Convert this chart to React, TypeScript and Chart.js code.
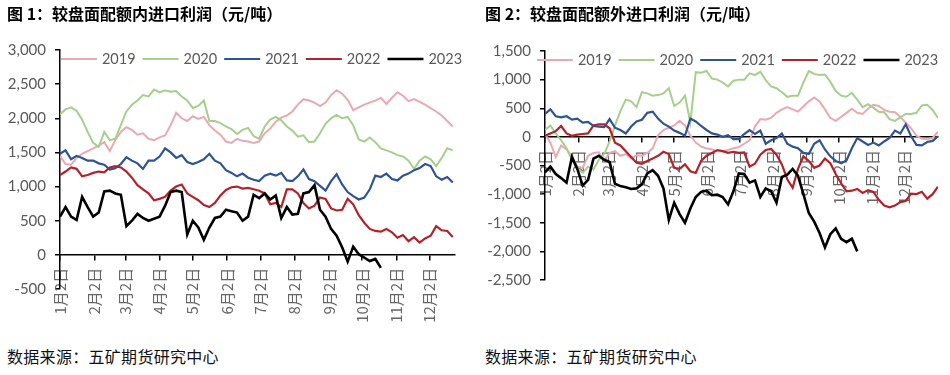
import React, { useEffect, useRef } from "react";
import { Chart, registerables } from "chart.js";

Chart.register(...registerables);

// ---------- shared axis data ----------
const MONTH_TICK_DAYS = [1, 32, 60, 91, 121, 152, 182, 213, 244, 274, 305, 335];
const MONTH_LABELS = ["1月2日", "2月2日", "3月2日", "4月2日", "5月2日", "6月2日", "7月2日", "8月2日", "9月2日", "10月2日", "11月2日", "12月2日"];
const YEARS = ["2019", "2020", "2021", "2022", "2023"];
const DAY_STEP = 5; // samples are read every 5 calendar days starting Jan 2

// ---------- Figure 1: 配额内进口利润 ----------
const P1_2019 = [1450, 1330, 1320, 1420, 1480, 1520, 1560, 1600, 1650, 1520, 1680, 1800, 1870, 1830, 1760, 1780, 1700, 1680, 1720, 1750, 1900, 2080, 2000, 1960, 2030, 1990, 2020, 1900, 1820, 1760, 1660, 1640, 1700, 1670, 1660, 1640,
  1660, 1780, 1850, 1950, 2010, 2040, 2100, 2200, 2280, 2260, 2230, 2180, 2230, 2340, 2410, 2360, 2270, 2120, 2160, 2200, 2230, 2260, 2300, 2210, 2300, 2380, 2330, 2250, 2280, 2240, 2200, 2150, 2100, 2040, 1960, 1880];
const P1_2020 = [2060, 2130, 2160, 2110, 1980, 1800, 1640, 1580, 1800, 1680, 1700, 1900, 2100, 2200, 2260, 2340, 2320, 2420, 2380, 2410, 2390, 2400, 2320, 2260, 2150, 2180, 2260, 1960, 1960, 1930, 1880, 1840, 1770, 1830, 1860, 1740,
  1700, 1880, 1980, 2020, 1970, 1880, 1820, 1730, 1750, 1650, 1660, 1780, 1920, 2000, 2050, 2000, 2020, 1900, 1690, 1660, 1720, 1650, 1560, 1530, 1500, 1460, 1440, 1380, 1260, 1380, 1440, 1400, 1300, 1420, 1560, 1530];
const P1_2021 = [1480, 1530, 1400, 1450, 1420, 1380, 1380, 1340, 1320, 1250, 1270, 1330, 1430, 1380, 1340, 1260, 1380, 1380, 1440, 1560, 1500, 1420, 1460, 1360, 1330, 1360, 1400, 1480, 1380, 1340, 1240, 1200, 1150, 1190, 1130, 1100,
  1080, 1160, 1190, 1160, 1200, 1090, 1080, 1150, 1250, 1110, 1080, 1010, 940, 1080, 1180, 1030, 920, 860, 810, 840, 960, 1160, 1140, 1190, 1110, 1090, 1160, 1190, 1240, 1270, 1330, 1300, 1150, 1100, 1140, 1060];
const P1_2022 = [1170, 1220, 1280, 1260, 1150, 1170, 1200, 1220, 1210, 1280, 1300, 1280, 1220, 1130, 1020, 960, 900, 800, 820, 850, 940, 1000, 1030, 900, 850, 800, 730, 700, 760, 870, 950, 990, 1000, 970, 980, 960,
  940, 900, 740, 760, 700, 960, 960, 900, 760, 680, 720, 840, 820, 680, 650, 660, 820, 740, 580, 470, 380, 350, 340, 380, 330, 250, 290, 200, 260, 180, 240, 280, 420, 360, 350, 260];
const P1_2023 = [560, 700, 560, 510, 850, 700, 560, 620, 930, 940, 900, 880, 420, 500, 600, 540, 500, 530, 560, 720, 920, 940, 920, 300, 500, 400, 220, 400, 540, 560, 660, 640, 620, 500, 560, 880,
  830, 900, 810, 870, 540, 700, 590, 600, 900, 920, 1020, 660, 560, 380, 280, 110, -100, 120, 10, -40, -90, -60, -190];

// ---------- Figure 2: 配额外进口利润 ----------
const P2_2019 = [50, -100, -350, -150, -220, -330, -520, -540, -330, -280, -270, -420, -280, -250, -330, -300, -380, -320, -330, -280, -200, 30, 120, 160, 200, 280, 200, 20, -100, -170, -200, -220, -250, -250, -230, -200, -180,
  -120, -60, 180, 310, 300, 330, 420, 480, 520, 480, 440, 530, 620, 690, 620, 480, 330, 280, 350, 420, 490, 420, 400, 490, 560, 540, 470, 440, 430, 350, 250, 150, 20, -30, -40, -20, 90];
const P2_2020 = [120, 200, 60, -60, -200, -400, -550, -630, -520, -570, -400, -300, -80, 200, 450, 650, 620, 520, 780, 760, 720, 730, 760, 850, 540, 600, 720, 250, 1130, 1120, 1150, 1020, 1000, 950, 880, 980, 1000,
  1000, 1110, 1080, 1140, 990, 880, 850, 780, 700, 720, 720, 950, 1150, 1100, 1080, 1090, 960, 800, 720, 700, 770, 650, 520, 570, 510, 440, 430, 310, 280, 340, 400, 400, 420, 550, 560, 470, 330];
const P2_2021 = [400, 480, 360, 340, 360, 300, 320, 250, 260, 190, 180, 170, 310, 160, 120, 60, 180, 270, 300, 420, 440, 320, 230, 180, 110, 70, 20, 320, 270, 190, 120, 60, 40, 0, 30, -40, -40,
  50, 120, 50, 110, -120, -60, -20, 60, -120, -170, -200, -280, -300, -120, -60, -220, -340, -420, -460, -410, -200, -20, -80, -140, -100, -150, -80, -20, 110, 60, 220, 10, -140, -150, -90, -70, 10];
const P2_2022 = [20, 60, 100, 190, 60, 20, 40, 50, 60, 200, 220, 220, 150, -100, -150, -250, -350, -450, -470, -420, -380, -330, -260, -300, -540, -560, -480, -600, -630, -420, -330, -280, -230, -250, -280, -260, -280,
  -270, -520, -470, -310, -230, -210, -310, -480, -740, -890, -560, -340, -420, -540, -500, -380, -460, -650, -810, -950, -940, -910, -980, -930, -960, -1100, -1200, -1230, -1200, -1140, -1120, -990, -1000, -960, -1080, -1000, -870];
const P2_2023 = [-620, -520, -650, -720, -800, -350, -560, -850, -750, -380, -330, -400, -440, -820, -860, -880, -910, -900, -830, -640, -580, -680, -900, -1450, -1150, -1350, -1500, -1250, -1050, -960, -940, -1020, -1010, -1050, -1180, -950, -640,
  -650, -800, -760, -1050, -900, -950, -1150, -700, -660, -560, -680, -1000, -1330, -1480, -1680, -1930, -1700, -1600, -1780, -1840, -1780, -2000];

const P1_SERIES = [P1_2019, P1_2020, P1_2021, P1_2022, P1_2023];
const P2_SERIES = [P2_2019, P2_2020, P2_2021, P2_2022, P2_2023];

const COLORS = ["#eaa9b1", "#a6cf8c", "#2f5496", "#b3222b", "#000000"];
const WIDTHS = [2, 2, 2.2, 2.2, 2.6];

const TICK_COLOR = "#595959";
const NUM_FONT = "Lato";
const CJK_FONT = '"Noto Sans CJK SC"';

const insideLegend = {
  id: "insideLegend",
  afterDatasetsDraw(chart: any, _args: any, opts: any) {
    const { ctx, chartArea } = chart;
    ctx.save();
    ctx.font = `14.5px ${NUM_FONT}`;
    const lineLen = 36, gap = 5, spacing = 7;
    const items = chart.data.datasets.map((ds: any) => ({ ds, w: lineLen + gap + ctx.measureText(ds.label).width }));
    const total = items.reduce((s: number, it: any) => s + it.w, 0) + spacing * (items.length - 1);
    let x = (chartArea.left + chartArea.right) / 2 - total / 2 + (opts.shift || 0);
    const y = chartArea.top + (opts.dy || 9);
    for (const it of items) {
      ctx.strokeStyle = it.ds.borderColor;
      ctx.lineWidth = it.ds.borderWidth;
      ctx.beginPath();
      ctx.moveTo(x, y);
      ctx.lineTo(x + lineLen, y);
      ctx.stroke();
      ctx.fillStyle = TICK_COLOR;
      ctx.textBaseline = "middle";
      ctx.textAlign = "left";
      ctx.fillText(it.ds.label, x + lineLen + gap, y + 0.5);
      x += it.w + spacing;
    }
    ctx.restore();
  },
};

function buildConfig(series: number[][], p: any) {
  const datasets = series.map((values, i) => ({
    label: YEARS[i],
    data: values.map((v, k) => ({ x: 1 + k * DAY_STEP, y: v })),
    borderColor: COLORS[i],
    backgroundColor: COLORS[i],
    borderWidth: WIDTHS[i],
    pointRadius: 0,
    tension: 0,
    fill: false,
    order: series.length - 1 - i,
  }));
  const axisLine = { display: true, color: "#000", width: 1.5 };
  const tickGrid = { display: true, drawOnChartArea: false, drawTicks: true, tickLength: 5, color: "#000", lineWidth: 1.5 };
  return {
    type: "line" as const,
    data: { datasets },
    options: {
      responsive: false,
      animation: false,
      devicePixelRatio: 1,
      layout: { padding: { left: 0, top: p.padTop, right: p.padRight, bottom: p.padBottom } },
      plugins: {
        legend: { display: false },
        tooltip: { enabled: false },
        insideLegend: { shift: p.legendShift, dy: p.legendDy },
      },
      scales: {
        x: {
          type: "linear",
          min: 1,
          max: p.xMax,
          position: { y: 0 },
          afterBuildTicks: (s: any) => {
            s.ticks = MONTH_TICK_DAYS.map((v) => ({ value: v }));
          },
          ticks: {
            autoSkip: false,
            minRotation: 90,
            maxRotation: 90,
            padding: 8,
            color: "#666666",
            font: { family: CJK_FONT, size: 15 },
            callback: (v: any) => {
              const idx = MONTH_TICK_DAYS.indexOf(Number(v));
              return idx >= 0 ? MONTH_LABELS[idx] : "";
            },
          },
          grid: tickGrid,
          border: axisLine,
        },
        y: {
          type: "linear",
          min: p.yMin,
          max: p.yMax,
          afterFit: (s: any) => {
            s.width = p.yWidth;
          },
          ticks: {
            stepSize: 500,
            color: TICK_COLOR,
            padding: 9,
            font: { family: NUM_FONT, size: 15 },
            callback: (v: any) => Number(v).toLocaleString("en-US"),
          },
          grid: tickGrid,
          border: axisLine,
        },
      },
    },
    plugins: [insideLegend],
  };
}

const CANVAS_W = 475;
const CANVAS_H = 340;

export default function App() {
  const ref1 = useRef<HTMLCanvasElement>(null);
  const ref2 = useRef<HTMLCanvasElement>(null);

  useEffect(() => {
    const c1 = new Chart(ref1.current as any, buildConfig(P1_SERIES, {
      xMax: 358, yMin: -500, yMax: 3000, yWidth: 60,
      padTop: 50, padRight: 20, padBottom: CANVAS_H - 289,
      legendShift: 4, legendDy: 9,
    }) as any);
    const c2 = new Chart(ref2.current as any, buildConfig(P2_SERIES, {
      xMax: 366, yMin: -2500, yMax: 1500, yWidth: 70,
      padTop: 51, padRight: 12, padBottom: CANVAS_H - 280,
      legendShift: -4, legendDy: 9,
    }) as any);
    return () => {
      c1.destroy();
      c2.destroy();
    };
  }, []);

  const titleStyle: React.CSSProperties = {
    position: "absolute", top: 5, fontFamily: CJK_FONT, fontWeight: 700, fontSize: 16,
    lineHeight: "17px", color: "#000", whiteSpace: "nowrap", margin: 0,
  };
  const srcStyle: React.CSSProperties = {
    position: "absolute", top: 347, fontFamily: CJK_FONT, fontWeight: 400, fontSize: 16,
    lineHeight: "18px", color: "#111", whiteSpace: "nowrap", margin: 0, letterSpacing: 0.3,
  };

  return (
    <div style={{ position: "absolute", left: 0, top: 0, width: 950, height: 375, background: "#fff", overflow: "hidden" }}>
      <canvas ref={ref1} width={CANVAS_W} height={CANVAS_H} style={{ position: "absolute", left: 0, top: 0, width: CANVAS_W, height: CANVAS_H }} />
      <canvas ref={ref2} width={CANVAS_W} height={CANVAS_H} style={{ position: "absolute", left: 475, top: 0, width: CANVAS_W, height: CANVAS_H }} />
      <div style={{ ...titleStyle, left: 7 }}>图 1：较盘面配额内进口利润（元/吨）</div>
      <div style={{ ...titleStyle, left: 485 }}>图 2：较盘面配额外进口利润（元/吨）</div>
      <div style={{ ...srcStyle, left: 7 }}>数据来源：五矿期货研究中心</div>
      <div style={{ ...srcStyle, left: 485 }}>数据来源：五矿期货研究中心</div>
    </div>
  );
}
